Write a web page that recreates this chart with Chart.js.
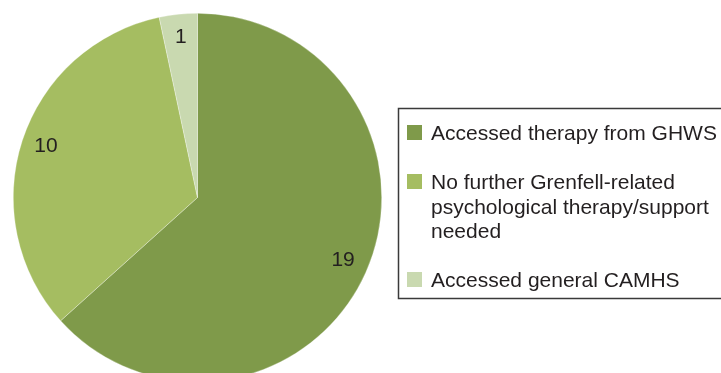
<!DOCTYPE html>
<html lang="en">
<head>
<meta charset="UTF-8" />
<title>Therapy outcomes</title>
<script src="https://cdn.jsdelivr.net/npm/chart.js@4/dist/chart.umd.min.js"></script>
<style>
  html, body { margin: 0; padding: 0; background: #fff; overflow: hidden; }
  #wrap { width: 721px; height: 400px; }
</style>
</head>
<body>
<div id="wrap"><canvas id="grafico" width="721" height="400"></canvas></div>
<script>
  // datos
  const categorias = [
    ['Accessed therapy from GHWS'],
    ['No further Grenfell-related', 'psychological therapy/support', 'needed'],
    ['Accessed general CAMHS']
  ];
  const valores = [19, 10, 1];
  const colores = ['#7f9a4a', '#a5bd61', '#c9d9b0'];

  const fuente = '21px "Liberation Sans", Arial, sans-serif';
  const tinta = '#231f20';

  // etiquetas de valor dentro de cada porción
  const etiquetas = {
    id: 'etiquetas',
    afterDatasetsDraw(chart) {
      const ctx = chart.ctx;
      ctx.save();
      ctx.font = fuente;
      ctx.fillStyle = tinta;
      ctx.textAlign = 'center';
      ctx.textBaseline = 'middle';
      chart.getDatasetMeta(0).data.forEach((arc, i) => {
        const p = arc.getProps(['x', 'y', 'startAngle', 'endAngle', 'outerRadius'], true);
        const a = (p.startAngle + p.endAngle) / 2;
        const r = p.outerRadius * 0.865;
        ctx.fillText(String(valores[i]), p.x + Math.cos(a) * r, p.y + Math.sin(a) * r - 2);
      });
      ctx.restore();
    }
  };

  // leyenda con marco, dibujada a mano
  const leyenda = {
    id: 'leyenda',
    afterDraw(chart) {
      const ctx = chart.ctx;
      ctx.save();
      ctx.strokeStyle = '#3a3a3a';
      ctx.lineWidth = 1.5;
      ctx.strokeRect(398.5, 108.5, 400, 190);
      ctx.font = fuente;
      ctx.fillStyle = tinta;
      ctx.textBaseline = 'alphabetic';
      const alto = 24.5;
      let base = 140;
      categorias.forEach((lineas, i) => {
        ctx.fillStyle = colores[i];
        ctx.fillRect(407, base - 15, 15, 15);
        ctx.fillStyle = tinta;
        lineas.forEach((t, j) => ctx.fillText(t, 431, base + j * alto));
        base += (lineas.length + 1) * alto;
      });
      ctx.restore();
    }
  };

  const grafico = new Chart(document.getElementById('grafico'), {
    type: 'pie',
    data: {
      labels: categorias,
      datasets: [{
        data: valores,
        backgroundColor: colores,
        borderColor: 'rgba(255,255,255,0.5)',
        borderWidth: 0.6
      }]
    },
    options: {
      responsive: false,
      devicePixelRatio: 1,
      animation: false,
      layout: { padding: { left: 13, top: 13, right: 339, bottom: 18 } },
      plugins: {
        legend: { display: false },
        tooltip: { enabled: false }
      }
    },
    plugins: [etiquetas, leyenda]
  });
</script>
</body>
</html>
